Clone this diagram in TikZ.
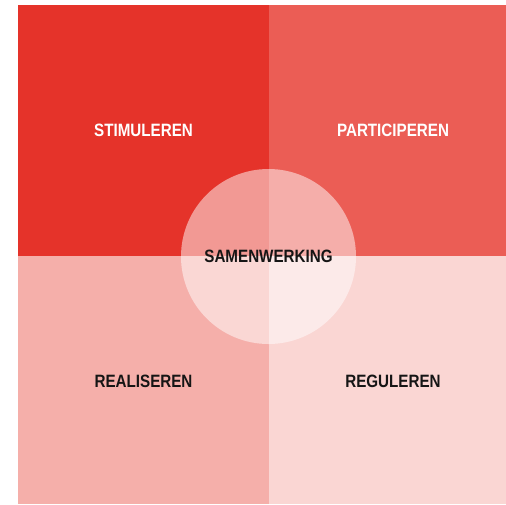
\documentclass[tikz,border=0pt]{standalone}
\usepackage{fontspec}
\setmainfont{Liberation Sans}
\definecolor{qtl}{HTML}{E5332A}
\definecolor{qtr}{HTML}{EB5D55}
\definecolor{qbl}{HTML}{F5AFAA}
\definecolor{qbr}{HTML}{FAD6D3}
\definecolor{txtdark}{HTML}{151515}
\tikzset{
  lbl/.style={font=\fontsize{13.4pt}{15pt}\selectfont\bfseries, xscale=0.85, inner sep=0pt},
  hub/.style={circle, fill=white, fill opacity=0.5, minimum size=131.25pt, inner sep=0pt, draw=none}
}
\begin{document}
\begin{tikzpicture}[x=0.75pt, y=-0.75pt]
\useasboundingbox (0,0) rectangle (506,504);
\fill[white] (0,0) rectangle (506,504);
\fill[qtl] (18,5) rectangle (269,256);
\fill[qtr] (269,5) rectangle (506,256);
\fill[qbl] (18,256) rectangle (269,504);
\fill[qbr] (269,256) rectangle (506,504);
\node[hub] (hub) at (268.5,256.5) {};
\node[lbl, text=white] (stim) at (143.5,130.5) {STIMULEREN};
\node[lbl, text=white] (part) at (393,130.5) {PARTICIPEREN};
\node[lbl, text=txtdark] (real) at (143.5,381) {REALISEREN};
\node[lbl, text=txtdark] (regu) at (393,381) {REGULEREN};
\node[lbl, text=txtdark] (samen) at (268.5,256) {SAMENWERKING};
\end{tikzpicture}
\end{document}
